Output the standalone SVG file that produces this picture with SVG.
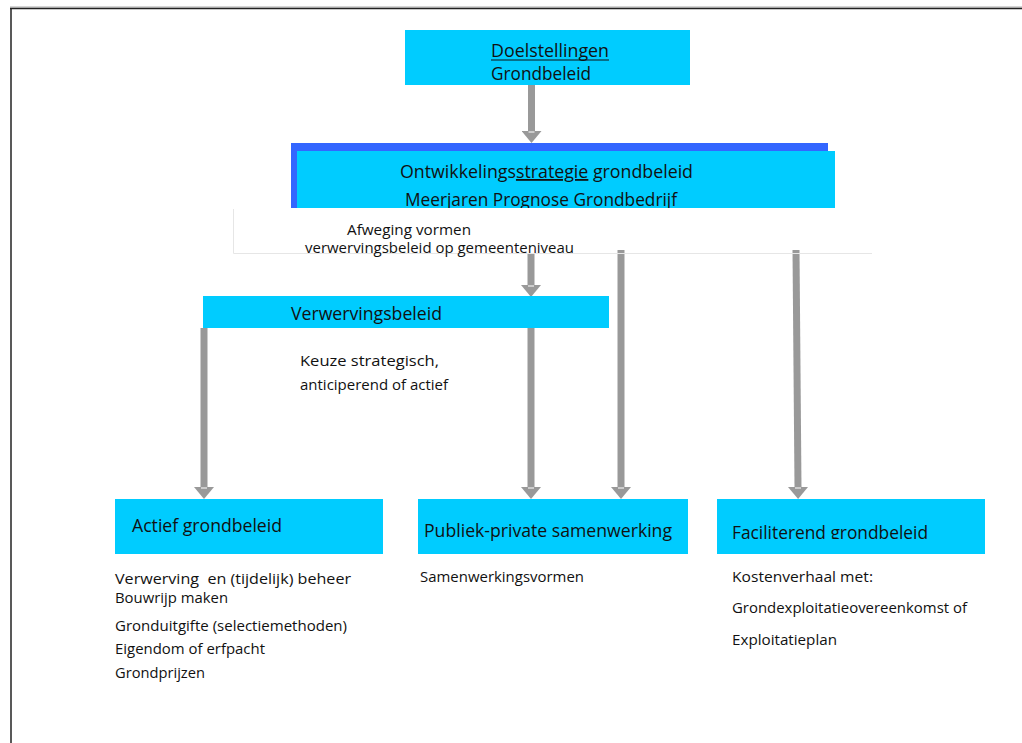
<svg xmlns="http://www.w3.org/2000/svg" width="1022" height="743" viewBox="0 0 1022 743">
<defs>
<style>
.box{fill:#00CCFF}
.t{font-family:"Open Sans","Liberation Sans",Arial,sans-serif;fill:#111}
.h{font-size:18px}
.s{font-size:15px}
.a{font-size:14px}
.conn{stroke:#999;stroke-width:7;fill:none}
</style>
<marker id="ah" markerUnits="userSpaceOnUse" markerWidth="20" markerHeight="20" viewBox="0 0 12 20" refX="0" refY="10" orient="auto">
<path d="M0,0 L12,10 L0,20 Z" fill="#999"/>
<path d="M1,7 L1,13" stroke="#fff" stroke-width="1"/>
</marker>
<clipPath id="c1"><rect x="0" y="0" width="1022" height="208"/></clipPath>
<clipPath id="c2"><rect x="700" y="499" width="300" height="40"/></clipPath>
</defs>
<rect width="1022" height="743" fill="#fff"/>
<g id="frame">
<line x1="10" y1="7" x2="1022" y2="7" stroke="#aaa" stroke-width="1"/>
<line x1="10" y1="8.5" x2="1022" y2="8.5" stroke="#222" stroke-width="1.5"/>
<line x1="11" y1="8" x2="11" y2="743" stroke="#222" stroke-width="1.5"/>
</g>
<g id="connectors">
<line class="conn" x1="531.5" y1="85" x2="531.5" y2="131" marker-end="url(#ah)"/>
<line class="conn" x1="531" y1="253" x2="531" y2="285" marker-end="url(#ah)"/>
<line class="conn" x1="204" y1="328" x2="204" y2="487" marker-end="url(#ah)"/>
<line class="conn" x1="531" y1="328" x2="531" y2="487" marker-end="url(#ah)"/>
<line class="conn" x1="621" y1="250" x2="621" y2="487" marker-end="url(#ah)"/>
<line class="conn" x1="796" y1="250" x2="798" y2="487" marker-end="url(#ah)"/>
</g>
<g id="doelstellingen">
<rect class="box" x="405" y="30" width="285" height="55"/>
<text class="t h" x="491" y="57" textLength="118" lengthAdjust="spacingAndGlyphs">Doelstellingen</text>
<line x1="491" y1="60" x2="609" y2="60" stroke="#111" stroke-width="1"/>
<text class="t h" x="491" y="80" textLength="100" lengthAdjust="spacingAndGlyphs">Grondbeleid</text>
</g>
<g id="ontwikkelingsstrategie">
<rect x="291" y="143" width="537" height="65" fill="#3366FF"/>
<rect class="box" x="297" y="151" width="538" height="57"/>
<text class="t h" x="400" y="178" textLength="293" lengthAdjust="spacingAndGlyphs">Ontwikkelings<tspan text-decoration="underline">strategie</tspan> grondbeleid</text>
<text class="t h" x="405" y="206" clip-path="url(#c1)" textLength="272" lengthAdjust="spacingAndGlyphs">Meerjaren Prognose Grondbedrijf</text>
</g>
<g id="afweging">
<path d="M233.5,209 V253.5 H872" stroke="#e6e6e6" stroke-width="1" fill="none"/>
<text class="t a" x="347" y="235" textLength="124" lengthAdjust="spacingAndGlyphs">Afweging vormen</text>
<text class="t a" x="305" y="253" textLength="269" lengthAdjust="spacingAndGlyphs">verwervingsbeleid op gemeenteniveau</text>
</g>
<g id="verwervingsbeleid">
<rect class="box" x="203" y="296" width="406" height="32"/>
<text class="t h" x="291" y="320" textLength="151" lengthAdjust="spacingAndGlyphs">Verwervingsbeleid</text>
<text class="t s" x="300" y="366" textLength="139" lengthAdjust="spacingAndGlyphs">Keuze strategisch,</text>
<text class="t s" x="300" y="390" textLength="148" lengthAdjust="spacingAndGlyphs">anticiperend of actief</text>
</g>
<g id="actief">
<rect class="box" x="115" y="499" width="268" height="55"/>
<text class="t h" x="132" y="532" textLength="150" lengthAdjust="spacingAndGlyphs">Actief grondbeleid</text>
<text class="t s" x="115" y="584" textLength="236" lengthAdjust="spacingAndGlyphs">Verwerving&#160; en (tijdelijk) beheer</text>
<text class="t s" x="115" y="603" textLength="113" lengthAdjust="spacingAndGlyphs">Bouwrijp maken</text>
<text class="t s" x="115" y="631" textLength="232" lengthAdjust="spacingAndGlyphs">Gronduitgifte (selectiemethoden)</text>
<text class="t s" x="115" y="654" textLength="150" lengthAdjust="spacingAndGlyphs">Eigendom of erfpacht</text>
<text class="t s" x="115" y="678" textLength="90" lengthAdjust="spacingAndGlyphs">Grondprijzen</text>
</g>
<g id="publiek">
<rect class="box" x="418" y="499" width="270" height="55"/>
<text class="t h" x="424" y="537" textLength="248" lengthAdjust="spacingAndGlyphs">Publiek-private samenwerking</text>
<text class="t s" x="420" y="582" textLength="164" lengthAdjust="spacingAndGlyphs">Samenwerkingsvormen</text>
</g>
<g id="faciliterend">
<rect class="box" x="717" y="499" width="268" height="55"/>
<text class="t h" x="732" y="539" clip-path="url(#c2)" textLength="196" lengthAdjust="spacingAndGlyphs">Faciliterend grondbeleid</text>
<text class="t s" x="732" y="582" textLength="141" lengthAdjust="spacingAndGlyphs">Kostenverhaal met:</text>
<text class="t s" x="732" y="613" textLength="235" lengthAdjust="spacingAndGlyphs">Grondexploitatieovereenkomst of</text>
<text class="t s" x="732" y="645" textLength="105" lengthAdjust="spacingAndGlyphs">Exploitatieplan</text>
</g>
</svg>
